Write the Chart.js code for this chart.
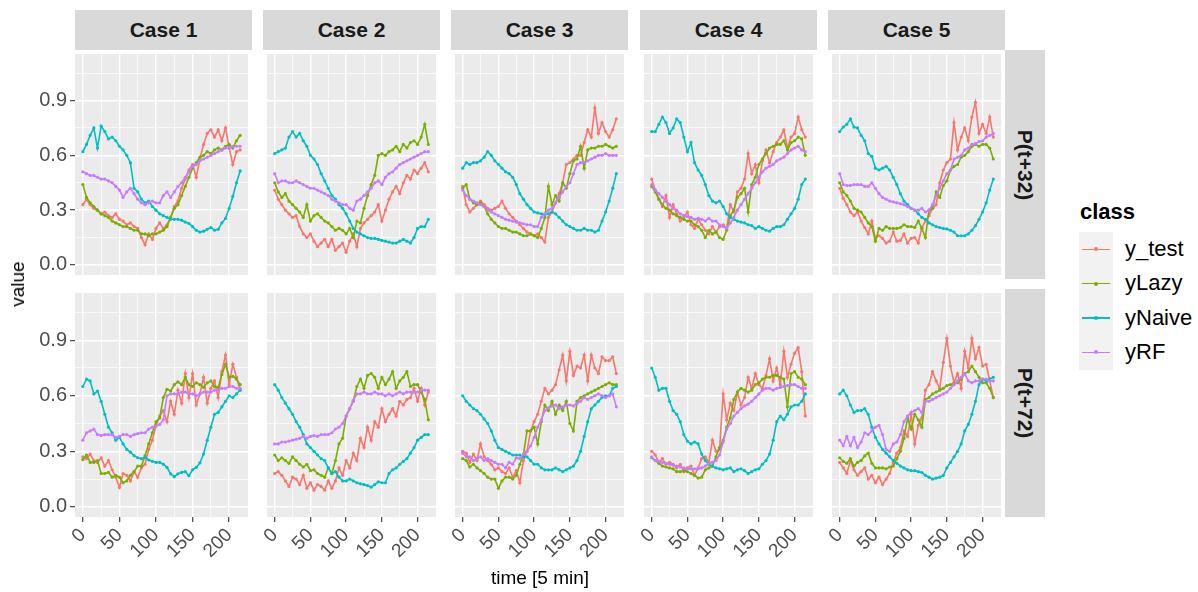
<!DOCTYPE html>
<html>
<head>
<meta charset="utf-8">
<script src="https://cdn.jsdelivr.net/npm/chart.js@4.4.0/dist/chart.umd.min.js"></script>
<style>
  body { margin: 0; background: #fff; font-family: "Liberation Sans", Arial, sans-serif; }
  #fig { position: relative; width: 1198px; height: 592px; overflow: hidden; }
  canvas { position: absolute; }
  .strip { position: absolute; background: #d9d9d9; color: #1a1a1a; font-weight: bold; font-size: 21px;
           display: flex; align-items: center; justify-content: center; }
  .strip.side span { transform: rotate(90deg); white-space: nowrap; }
  .title { position: absolute; color: #000; font-size: 19px; white-space: nowrap; }
  .legend-title { position: absolute; font-weight: bold; font-size: 22px; color: #000; }
  .key { position: absolute; background: #f2f2f2; }
  .key .ln { position: absolute; height: 1.5px; }
  .key .pt { position: absolute; width: 4px; height: 4px; border-radius: 2px; }
  .lab { position: absolute; font-size: 22px; color: #000; }
</style>
</head>
<body>
<div id="fig"></div>
<script>
"use strict";

// ---------------------------------------------------------------------------
// Data (one value every 5 time steps)
// ---------------------------------------------------------------------------

const TIME = [0, 5, 10, 15, 20, 25, 30, 35, 40, 45, 50, 55, 60, 65, 70, 75, 80, 85, 90, 95, 100, 105,
  110, 115, 120, 125, 130, 135, 140, 145, 150, 155, 160, 165, 170, 175, 180, 185, 190, 195, 200, 205, 210, 215];
const CASES = ["Case 1", "Case 2", "Case 3", "Case 4", "Case 5"];
const HORIZONS = ["P(t+32)", "P(t+72)"];
const CLASSES = ["y_test", "yLazy", "yNaive", "yRF"];
const COLORS = ["#F8766D", "#7CAE00", "#00BFC4", "#C77CFF"];
const X_MAJOR = [0, 50, 100, 150, 200];
const X_MINOR = [25, 75, 125, 175];
const Y_MAJOR = [0, 0.3, 0.6, 0.9];
const Y_MINOR = [0.15, 0.45, 0.75, 1.05];

// P(t+32)
const p32c1Test = [0.33,0.36,0.33,0.31,0.30,0.28,0.29,0.27,0.26,0.28,0.25,0.24,0.22,0.23,0.21,0.20,0.15,0.11,0.17,0.14,0.20,0.23,0.20,0.22,0.26,0.32,0.35,0.42,0.47,0.52,0.55,0.48,0.58,0.66,0.72,0.74,0.70,0.74,0.68,0.75,0.64,0.55,0.62,0.63];
const p32c1Lazy = [0.44,0.37,0.34,0.32,0.30,0.28,0.27,0.26,0.24,0.23,0.22,0.21,0.21,0.20,0.19,0.19,0.17,0.17,0.16,0.17,0.17,0.18,0.19,0.21,0.26,0.31,0.33,0.38,0.43,0.48,0.53,0.56,0.59,0.60,0.62,0.61,0.63,0.64,0.63,0.65,0.66,0.64,0.68,0.71];
const p32c1Naive = [0.62,0.66,0.71,0.75,0.64,0.76,0.73,0.69,0.70,0.68,0.65,0.63,0.60,0.56,0.42,0.40,0.36,0.34,0.35,0.32,0.30,0.28,0.27,0.26,0.25,0.25,0.25,0.245,0.235,0.227,0.21,0.19,0.18,0.185,0.195,0.205,0.19,0.195,0.23,0.255,0.31,0.375,0.45,0.515];
const p32c1RF = [0.51,0.50,0.49,0.49,0.48,0.47,0.47,0.46,0.45,0.43,0.41,0.37,0.40,0.42,0.39,0.36,0.34,0.33,0.34,0.35,0.34,0.34,0.38,0.40,0.37,0.40,0.43,0.45,0.48,0.51,0.54,0.55,0.57,0.58,0.59,0.60,0.61,0.62,0.63,0.64,0.64,0.65,0.65,0.65];

const p32c2Test = [0.41,0.36,0.33,0.30,0.28,0.26,0.27,0.21,0.17,0.15,0.17,0.13,0.10,0.12,0.14,0.10,0.14,0.08,0.10,0.12,0.07,0.13,0.17,0.10,0.20,0.23,0.25,0.27,0.29,0.33,0.24,0.30,0.36,0.40,0.43,0.39,0.45,0.49,0.47,0.52,0.50,0.53,0.56,0.51];
const p32c2Lazy = [0.45,0.40,0.37,0.39,0.35,0.33,0.31,0.29,0.26,0.33,0.24,0.27,0.28,0.26,0.24,0.23,0.21,0.19,0.20,0.19,0.17,0.20,0.15,0.24,0.23,0.31,0.38,0.44,0.49,0.60,0.61,0.60,0.62,0.63,0.65,0.62,0.66,0.64,0.67,0.68,0.66,0.70,0.77,0.66];
const p32c2Naive = [0.61,0.62,0.63,0.64,0.70,0.73,0.70,0.72,0.68,0.65,0.60,0.58,0.55,0.50,0.46,0.42,0.38,0.36,0.33,0.31,0.28,0.24,0.20,0.18,0.17,0.16,0.15,0.145,0.145,0.14,0.135,0.13,0.125,0.12,0.12,0.13,0.14,0.13,0.12,0.15,0.20,0.21,0.21,0.25];
const p32c2RF = [0.50,0.45,0.46,0.46,0.45,0.45,0.46,0.45,0.44,0.43,0.42,0.42,0.41,0.40,0.39,0.38,0.36,0.35,0.34,0.33,0.33,0.31,0.30,0.35,0.36,0.38,0.40,0.42,0.45,0.46,0.44,0.48,0.50,0.51,0.53,0.55,0.56,0.57,0.58,0.59,0.60,0.61,0.62,0.62];

const p32c3Test = [0.43,0.33,0.29,0.31,0.33,0.35,0.33,0.31,0.30,0.31,0.32,0.35,0.31,0.28,0.26,0.24,0.22,0.20,0.18,0.17,0.16,0.17,0.15,0.125,0.26,0.29,0.34,0.39,0.45,0.55,0.56,0.58,0.60,0.60,0.67,0.74,0.70,0.86,0.72,0.78,0.73,0.70,0.74,0.80];
const p32c3Lazy = [0.42,0.44,0.36,0.34,0.33,0.34,0.32,0.28,0.25,0.23,0.21,0.20,0.20,0.19,0.18,0.18,0.17,0.16,0.16,0.17,0.16,0.15,0.20,0.26,0.43,0.33,0.38,0.35,0.45,0.42,0.50,0.57,0.58,0.65,0.53,0.63,0.64,0.64,0.65,0.65,0.66,0.65,0.64,0.65];
const p32c3Naive = [0.53,0.56,0.55,0.56,0.56,0.57,0.59,0.62,0.60,0.57,0.55,0.53,0.51,0.50,0.48,0.44,0.39,0.36,0.33,0.31,0.29,0.285,0.28,0.275,0.28,0.29,0.28,0.26,0.24,0.22,0.21,0.20,0.19,0.19,0.20,0.19,0.19,0.18,0.19,0.24,0.29,0.35,0.42,0.50];
const p32c3RF = [0.41,0.38,0.36,0.35,0.34,0.33,0.32,0.30,0.29,0.28,0.27,0.26,0.25,0.245,0.24,0.235,0.23,0.225,0.22,0.22,0.21,0.21,0.26,0.28,0.30,0.31,0.34,0.37,0.40,0.43,0.45,0.50,0.55,0.56,0.56,0.57,0.58,0.59,0.60,0.60,0.61,0.60,0.60,0.60];

const p32c4Test = [0.47,0.41,0.36,0.32,0.38,0.26,0.33,0.28,0.24,0.26,0.29,0.22,0.20,0.25,0.22,0.19,0.17,0.21,0.18,0.21,0.22,0.20,0.33,0.29,0.40,0.42,0.47,0.61,0.50,0.55,0.45,0.57,0.63,0.56,0.62,0.67,0.70,0.74,0.64,0.70,0.72,0.81,0.74,0.70];
const p32c4Lazy = [0.43,0.40,0.36,0.33,0.31,0.30,0.28,0.27,0.26,0.25,0.24,0.24,0.22,0.21,0.19,0.15,0.19,0.17,0.18,0.15,0.14,0.19,0.27,0.30,0.37,0.39,0.42,0.29,0.44,0.48,0.55,0.58,0.61,0.64,0.65,0.66,0.66,0.68,0.63,0.67,0.68,0.70,0.69,0.60];
const p32c4Naive = [0.73,0.73,0.77,0.81,0.78,0.72,0.75,0.80,0.78,0.70,0.62,0.67,0.56,0.52,0.49,0.44,0.38,0.35,0.34,0.35,0.32,0.28,0.26,0.25,0.24,0.235,0.23,0.22,0.215,0.20,0.21,0.20,0.19,0.185,0.20,0.21,0.21,0.22,0.25,0.28,0.31,0.36,0.44,0.47];
const p32c4RF = [0.44,0.41,0.39,0.37,0.35,0.33,0.31,0.30,0.28,0.27,0.265,0.26,0.25,0.255,0.25,0.24,0.255,0.24,0.24,0.22,0.21,0.20,0.23,0.26,0.30,0.33,0.36,0.39,0.42,0.45,0.48,0.51,0.53,0.54,0.55,0.57,0.58,0.59,0.61,0.63,0.64,0.65,0.63,0.62];

const p32c5Test = [0.42,0.365,0.33,0.29,0.27,0.29,0.24,0.205,0.17,0.24,0.145,0.16,0.145,0.12,0.13,0.18,0.13,0.135,0.17,0.12,0.145,0.15,0.12,0.205,0.24,0.27,0.31,0.33,0.45,0.52,0.56,0.58,0.78,0.63,0.70,0.75,0.68,0.81,0.89,0.72,0.77,0.72,0.81,0.70];
const p32c5Lazy = [0.45,0.40,0.38,0.35,0.31,0.30,0.29,0.26,0.23,0.21,0.13,0.20,0.19,0.21,0.20,0.20,0.20,0.205,0.22,0.21,0.21,0.205,0.24,0.20,0.15,0.30,0.31,0.40,0.37,0.435,0.46,0.52,0.54,0.55,0.59,0.60,0.62,0.65,0.66,0.65,0.66,0.66,0.64,0.58];
const p32c5Naive = [0.73,0.755,0.77,0.80,0.755,0.75,0.71,0.68,0.61,0.595,0.53,0.52,0.53,0.54,0.52,0.48,0.44,0.39,0.35,0.33,0.31,0.30,0.28,0.26,0.25,0.23,0.22,0.21,0.205,0.20,0.197,0.19,0.18,0.16,0.16,0.16,0.17,0.19,0.215,0.25,0.29,0.34,0.41,0.47];
const p32c5RF = [0.50,0.44,0.435,0.435,0.44,0.44,0.44,0.43,0.43,0.45,0.42,0.39,0.37,0.36,0.35,0.345,0.34,0.335,0.33,0.32,0.31,0.30,0.30,0.31,0.29,0.30,0.33,0.38,0.42,0.46,0.50,0.52,0.58,0.59,0.60,0.63,0.64,0.66,0.665,0.675,0.68,0.70,0.71,0.72];

// P(t+72)
const p72c1Test = [0.27,0.26,0.285,0.25,0.24,0.265,0.22,0.25,0.20,0.16,0.105,0.18,0.17,0.14,0.19,0.16,0.21,0.23,0.31,0.36,0.44,0.49,0.52,0.46,0.57,0.50,0.63,0.56,0.72,0.59,0.72,0.55,0.61,0.70,0.56,0.64,0.68,0.59,0.73,0.82,0.66,0.77,0.70,0.63];
const p72c1Lazy = [0.255,0.28,0.24,0.24,0.25,0.18,0.18,0.186,0.16,0.17,0.16,0.13,0.14,0.17,0.19,0.22,0.22,0.276,0.34,0.40,0.46,0.48,0.59,0.635,0.626,0.66,0.675,0.66,0.70,0.66,0.65,0.67,0.66,0.645,0.67,0.68,0.65,0.645,0.715,0.77,0.70,0.705,0.69,0.66];
const p72c1Naive = [0.65,0.69,0.68,0.61,0.625,0.57,0.50,0.43,0.40,0.36,0.375,0.34,0.31,0.295,0.276,0.265,0.26,0.267,0.253,0.246,0.24,0.24,0.23,0.213,0.178,0.163,0.178,0.186,0.19,0.168,0.20,0.213,0.237,0.285,0.36,0.43,0.50,0.51,0.54,0.57,0.60,0.59,0.61,0.63];
const p72c1RF = [0.36,0.40,0.41,0.42,0.39,0.385,0.39,0.39,0.39,0.375,0.38,0.39,0.39,0.38,0.39,0.395,0.40,0.40,0.42,0.43,0.435,0.445,0.47,0.60,0.61,0.61,0.61,0.62,0.62,0.61,0.61,0.60,0.61,0.62,0.62,0.62,0.63,0.63,0.64,0.64,0.65,0.65,0.64,0.64];

const p72c2Test = [0.18,0.19,0.17,0.14,0.11,0.16,0.15,0.12,0.17,0.10,0.13,0.09,0.12,0.11,0.09,0.14,0.10,0.14,0.21,0.17,0.25,0.21,0.29,0.25,0.37,0.32,0.43,0.36,0.46,0.43,0.53,0.46,0.50,0.53,0.49,0.57,0.55,0.58,0.59,0.64,0.57,0.64,0.55,0.62];
const p72c2Lazy = [0.28,0.25,0.265,0.25,0.235,0.27,0.25,0.23,0.215,0.23,0.195,0.20,0.18,0.17,0.16,0.21,0.18,0.25,0.34,0.37,0.49,0.53,0.57,0.65,0.69,0.64,0.71,0.72,0.70,0.64,0.70,0.66,0.69,0.73,0.64,0.68,0.70,0.73,0.65,0.66,0.66,0.62,0.58,0.47];
const p72c2Naive = [0.66,0.63,0.59,0.56,0.53,0.50,0.46,0.43,0.39,0.34,0.32,0.30,0.28,0.26,0.25,0.21,0.18,0.19,0.16,0.14,0.14,0.15,0.14,0.13,0.124,0.12,0.115,0.106,0.12,0.135,0.13,0.13,0.18,0.20,0.21,0.23,0.245,0.26,0.29,0.32,0.36,0.375,0.39,0.39];
const p72c2RF = [0.34,0.34,0.35,0.35,0.355,0.36,0.365,0.37,0.38,0.37,0.38,0.385,0.38,0.39,0.39,0.39,0.40,0.42,0.43,0.45,0.49,0.53,0.575,0.61,0.61,0.62,0.61,0.61,0.62,0.61,0.61,0.60,0.61,0.60,0.61,0.62,0.61,0.62,0.62,0.62,0.62,0.63,0.63,0.63];

const p72c3Test = [0.30,0.29,0.24,0.285,0.25,0.34,0.27,0.25,0.23,0.20,0.21,0.19,0.18,0.21,0.16,0.195,0.13,0.25,0.30,0.41,0.46,0.50,0.57,0.64,0.61,0.63,0.66,0.74,0.82,0.68,0.84,0.71,0.76,0.75,0.82,0.68,0.82,0.75,0.72,0.81,0.79,0.79,0.81,0.72];
const p72c3Lazy = [0.26,0.25,0.215,0.23,0.21,0.195,0.18,0.16,0.15,0.15,0.10,0.14,0.16,0.16,0.15,0.17,0.23,0.28,0.41,0.41,0.43,0.34,0.46,0.55,0.52,0.57,0.50,0.55,0.52,0.57,0.45,0.41,0.57,0.59,0.60,0.61,0.62,0.63,0.64,0.65,0.66,0.67,0.66,0.66];
const p72c3Naive = [0.60,0.57,0.55,0.53,0.52,0.50,0.475,0.45,0.41,0.36,0.32,0.31,0.30,0.29,0.28,0.28,0.28,0.27,0.27,0.25,0.23,0.23,0.21,0.20,0.20,0.20,0.21,0.20,0.19,0.20,0.21,0.22,0.25,0.30,0.38,0.46,0.53,0.55,0.57,0.59,0.60,0.60,0.64,0.65];
const p72c3RF = [0.29,0.27,0.27,0.25,0.26,0.27,0.25,0.26,0.25,0.24,0.23,0.23,0.21,0.24,0.23,0.265,0.26,0.285,0.30,0.33,0.375,0.43,0.47,0.52,0.535,0.545,0.55,0.53,0.54,0.55,0.55,0.545,0.56,0.57,0.59,0.58,0.59,0.60,0.61,0.60,0.59,0.60,0.61,0.54];

const p72c4Test = [0.30,0.28,0.24,0.26,0.23,0.24,0.23,0.21,0.23,0.19,0.21,0.22,0.17,0.21,0.26,0.27,0.24,0.36,0.30,0.31,0.61,0.47,0.56,0.52,0.62,0.55,0.59,0.70,0.64,0.72,0.66,0.64,0.71,0.80,0.68,0.75,0.66,0.84,0.70,0.77,0.83,0.86,0.73,0.49];
const p72c4Lazy = [0.265,0.25,0.235,0.22,0.215,0.21,0.205,0.19,0.19,0.195,0.19,0.18,0.17,0.155,0.16,0.20,0.21,0.22,0.27,0.32,0.36,0.43,0.48,0.58,0.62,0.64,0.63,0.62,0.63,0.66,0.67,0.69,0.70,0.70,0.71,0.71,0.70,0.69,0.54,0.72,0.73,0.70,0.69,0.66];
const p72c4Naive = [0.75,0.70,0.63,0.64,0.64,0.57,0.52,0.50,0.46,0.39,0.355,0.34,0.35,0.34,0.285,0.25,0.23,0.22,0.21,0.205,0.20,0.205,0.21,0.19,0.20,0.205,0.195,0.18,0.19,0.20,0.205,0.23,0.25,0.285,0.36,0.46,0.49,0.47,0.50,0.54,0.55,0.55,0.57,0.61];
const p72c4RF = [0.27,0.25,0.245,0.24,0.235,0.23,0.225,0.22,0.215,0.21,0.205,0.205,0.205,0.205,0.21,0.22,0.235,0.24,0.25,0.28,0.35,0.42,0.45,0.49,0.51,0.53,0.545,0.555,0.57,0.59,0.61,0.63,0.64,0.64,0.63,0.64,0.645,0.65,0.655,0.66,0.66,0.65,0.64,0.64];

const p72c5Test = [0.24,0.21,0.18,0.25,0.20,0.17,0.19,0.21,0.15,0.17,0.13,0.16,0.12,0.15,0.18,0.24,0.29,0.32,0.41,0.38,0.50,0.34,0.44,0.48,0.63,0.66,0.73,0.68,0.64,0.78,0.91,0.76,0.67,0.72,0.64,0.84,0.75,0.91,0.80,0.86,0.76,0.77,0.68,0.59];
const p72c5Lazy = [0.265,0.245,0.235,0.26,0.22,0.24,0.25,0.275,0.29,0.235,0.21,0.21,0.21,0.205,0.215,0.22,0.26,0.30,0.37,0.48,0.42,0.50,0.47,0.43,0.58,0.59,0.61,0.62,0.63,0.64,0.655,0.66,0.665,0.67,0.69,0.72,0.73,0.76,0.73,0.70,0.67,0.67,0.64,0.59];
const p72c5Naive = [0.61,0.63,0.60,0.55,0.51,0.52,0.52,0.53,0.50,0.43,0.375,0.34,0.31,0.29,0.27,0.25,0.235,0.22,0.21,0.20,0.195,0.195,0.19,0.185,0.17,0.16,0.15,0.155,0.16,0.17,0.21,0.24,0.27,0.30,0.34,0.41,0.445,0.50,0.57,0.66,0.69,0.68,0.69,0.70];
const p72c5RF = [0.36,0.33,0.38,0.33,0.375,0.32,0.35,0.40,0.39,0.41,0.43,0.44,0.39,0.31,0.30,0.34,0.35,0.39,0.46,0.49,0.51,0.52,0.53,0.51,0.57,0.57,0.58,0.59,0.60,0.61,0.62,0.64,0.66,0.68,0.70,0.72,0.68,0.67,0.68,0.68,0.69,0.69,0.68,0.68];

// panel lookup: [horizon][case] -> [test, lazy, naive, rf]
const PANELS = [
  [
    [p32c1Test, p32c1Lazy, p32c1Naive, p32c1RF],
    [p32c2Test, p32c2Lazy, p32c2Naive, p32c2RF],
    [p32c3Test, p32c3Lazy, p32c3Naive, p32c3RF],
    [p32c4Test, p32c4Lazy, p32c4Naive, p32c4RF],
    [p32c5Test, p32c5Lazy, p32c5Naive, p32c5RF],
  ],
  [
    [p72c1Test, p72c1Lazy, p72c1Naive, p72c1RF],
    [p72c2Test, p72c2Lazy, p72c2Naive, p72c2RF],
    [p72c3Test, p72c3Lazy, p72c3Naive, p72c3RF],
    [p72c4Test, p72c4Lazy, p72c4Naive, p72c4RF],
    [p72c5Test, p72c5Lazy, p72c5Naive, p72c5RF],
  ],
];

// ---------------------------------------------------------------------------
// Layout
// ---------------------------------------------------------------------------

const COL_LEFT = [75, 263, 451, 640, 828];
const COL_W = 177;
const ROW_TOP = [50, 289];
const ROW_H = [229, 228];
const Y_AXIS_W = 55;
const X_AXIS_H = 62;
const Y_TICK_FONT = { family: "'Liberation Sans', Arial, sans-serif", size: 20 };
const X_TICK_FONT = { family: "'Liberation Sans', Arial, sans-serif", size: 19 };

const fig = document.getElementById("fig");

function div(cls, css, text) {
  const el = document.createElement("div");
  el.className = cls;
  Object.assign(el.style, css);
  if (text != null) el.textContent = text;
  fig.appendChild(el);
  return el;
}

// grey panel background behind the grid
const panelBg = {
  id: "panelBg",
  beforeDraw(chart) {
    const { ctx, chartArea: a } = chart;
    ctx.save();
    ctx.fillStyle = "#EBEBEB";
    ctx.fillRect(a.left, a.top, a.right - a.left, a.bottom - a.top);
    ctx.restore();
  },
};

function gridOpts(showTicks) {
  return {
    color: "#FFFFFF",
    lineWidth: (c) => (c.tick && c.tick.gg ? 1.4 : 0.7),
    drawTicks: showTicks,
    tickLength: 5,
    tickWidth: 1.1,
    tickColor: (c) => (c.tick && c.tick.gg ? "#333333" : "rgba(0,0,0,0)"),
  };
}

function tickList(major, minor) {
  return major.map((v) => ({ value: v, gg: true }))
    .concat(minor.map((v) => ({ value: v, gg: false })))
    .sort((a, b) => a.value - b.value);
}

function makePanel(r, c) {
  const showY = c === 0;
  const showX = r === 1;
  const axW = showY ? Y_AXIS_W : 0;
  const axH = showX ? X_AXIS_H : 0;
  const w = COL_W + axW;
  const h = ROW_H[r] + axH;

  const cv = document.createElement("canvas");
  cv.width = w;
  cv.height = h;
  Object.assign(cv.style, { left: COL_LEFT[c] - axW + "px", top: ROW_TOP[r] + "px", width: w + "px", height: h + "px" });
  fig.appendChild(cv);

  const series = PANELS[r][c];
  const datasets = CLASSES.map((name, k) => ({
    label: name,
    data: TIME.map((t, i) => ({ x: t, y: series[k][i] })),
    borderColor: COLORS[k],
    backgroundColor: COLORS[k],
    borderWidth: 1.6,
    pointRadius: 1.6,
    pointBorderWidth: 0,
    tension: 0,
    order: CLASSES.length - 1 - k,
  }));

  new Chart(cv, {
    type: "line",
    data: { datasets },
    plugins: [panelBg],
    options: {
      responsive: false,
      animation: false,
      devicePixelRatio: 1,
      layout: { padding: 0 },
      plugins: { legend: { display: false }, tooltip: { enabled: false } },
      scales: {
        x: {
          type: "linear",
          min: -10.75,
          max: 225.75,
          afterBuildTicks: (s) => { s.ticks = tickList(X_MAJOR, X_MINOR); },
          afterFit: (s) => { s.height = axH; s.paddingLeft = 0; s.paddingRight = 0; },
          border: { display: false },
          grid: gridOpts(showX),
          ticks: {
            display: showX,
            autoSkip: false,
            minRotation: 45,
            maxRotation: 45,
            padding: 2,
            color: "#4D4D4D",
            font: X_TICK_FONT,
            callback: (v, i, ticks) => (ticks[i].gg ? String(v) : ""),
          },
        },
        y: {
          type: "linear",
          min: -0.055,
          max: 1.155,
          afterBuildTicks: (s) => { s.ticks = tickList(Y_MAJOR, Y_MINOR); },
          afterFit: (s) => { s.width = axW; s.paddingTop = 0; s.paddingBottom = 0; },
          border: { display: false },
          grid: gridOpts(showY),
          ticks: {
            display: showY,
            padding: 3,
            color: "#4D4D4D",
            font: Y_TICK_FONT,
            callback: (v, i, ticks) => (ticks[i].gg ? v.toFixed(1) : ""),
          },
        },
      },
    },
  });
}

for (let r = 0; r < HORIZONS.length; r++) {
  for (let c = 0; c < CASES.length; c++) makePanel(r, c);
}

// facet strips
CASES.forEach((name, c) => {
  div("strip", { left: COL_LEFT[c] + "px", top: "10px", width: COL_W + "px", height: "40px" }, name);
});
HORIZONS.forEach((name, r) => {
  const s = div("strip side", { left: "1005px", top: ROW_TOP[r] + "px", width: "40px", height: ROW_H[r] + "px" });
  const span = document.createElement("span");
  span.textContent = name;
  s.appendChild(span);
});

// axis titles
div("title", { left: "18px", top: "284px", transform: "translate(-50%,-50%) rotate(-90deg)" }, "value");
div("title", { left: "540px", top: "578px", transform: "translate(-50%,-50%)" }, "time [5 min]");

// legend
div("legend-title", { left: "1080px", top: "199px" }, "class");
CLASSES.forEach((name, k) => {
  const top = 232 + k * 34.4;
  const key = div("key", { left: "1079px", top: top + "px", width: "34px", height: "34.4px" });
  const ln = document.createElement("div");
  ln.className = "ln";
  Object.assign(ln.style, { left: "3px", width: "28px", top: "16.5px", background: COLORS[k] });
  key.appendChild(ln);
  const pt = document.createElement("div");
  pt.className = "pt";
  Object.assign(pt.style, { left: "15px", top: "15.2px", background: COLORS[k] });
  key.appendChild(pt);
  div("lab", { left: "1125px", top: top + 17 + "px", transform: "translateY(-50%)" }, name);
});
</script>
</body>
</html>
